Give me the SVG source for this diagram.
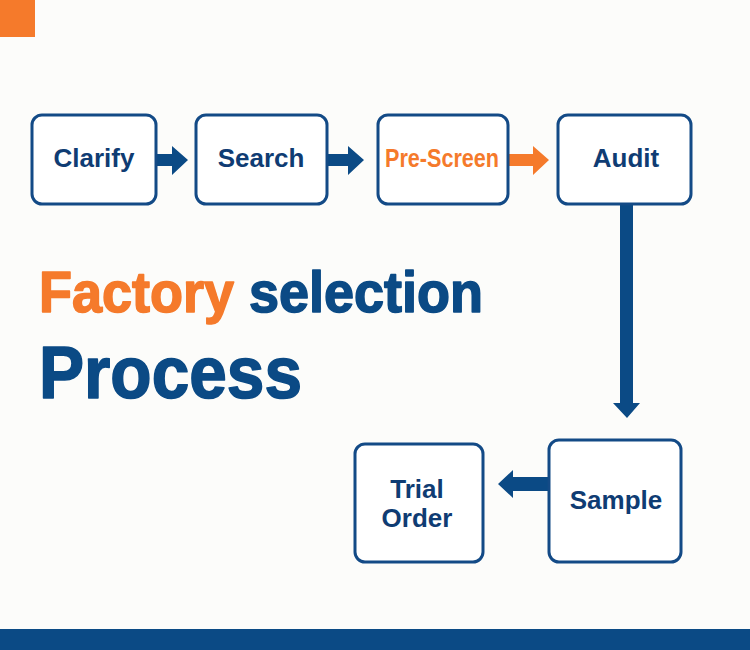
<svg xmlns="http://www.w3.org/2000/svg" width="750" height="650" viewBox="0 0 750 650">
<style>
.box{fill:#ffffff;stroke:#134a86;stroke-width:3}
.lbl{font-family:"Liberation Sans",Arial,sans-serif;font-weight:bold;font-size:26px;fill:#0f3c73;text-anchor:middle}
.blue{fill:#0b4a85}
.orange{fill:#f57a2b}
.title{font-family:"Liberation Sans",Arial,sans-serif;font-weight:bold;stroke-width:1.6;stroke-linejoin:round}
</style>
<rect x="0" y="0" width="750" height="650" fill="#fcfcfa"/>
<rect x="0" y="0" width="35" height="37" class="orange"/>
<rect x="0" y="629" width="750" height="21" class="blue"/>

<g id="connectors">
<polygon class="blue" points="157,154 172,154 172,146 188,160 172,175 172,166 157,166"/>
<polygon class="blue" points="328,154 348,154 348,146 364,160 348,175 348,166 328,166"/>
<polygon class="orange" points="508,154 533,154 533,146 549,160 533,175 533,166 508,166"/>
<polygon class="blue" points="620,205 633,205 633,403 640,403 627,418 613,403 620,403"/>
<polygon class="blue" points="548,477 513,477 513,470 498,484 513,498 513,491 548,491"/>
</g>

<g id="clarify">
<rect class="box" x="32" y="115" width="124" height="89" rx="10"/>
<text class="lbl" x="94" y="167">Clarify</text>
</g>
<g id="search">
<rect class="box" x="196" y="115" width="131" height="89" rx="10"/>
<text class="lbl" x="261" y="167">Search</text>
</g>
<g id="prescreen">
<rect class="box" x="378" y="115" width="130" height="89" rx="10"/>
<text class="lbl" x="442" y="167" style="fill:#f57a2b" textLength="114" lengthAdjust="spacingAndGlyphs">Pre-Screen</text>
</g>
<g id="audit">
<rect class="box" x="558" y="115" width="133" height="89" rx="10"/>
<text class="lbl" x="626" y="167">Audit</text>
</g>
<g id="sample">
<rect class="box" x="549" y="440" width="132" height="122" rx="10"/>
<text class="lbl" x="616" y="509">Sample</text>
</g>
<g id="trial-order">
<rect class="box" x="355" y="444" width="128" height="118" rx="10"/>
<text class="lbl" x="417" y="498">Trial</text>
<text class="lbl" x="417" y="527">Order</text>
</g>

<g id="title">
<text class="title" x="39" y="312" font-size="57" textLength="444" lengthAdjust="spacingAndGlyphs"><tspan fill="#f57a2b" stroke="#f57a2b">Factory</tspan><tspan fill="#0b4a85" stroke="#0b4a85"> selection</tspan></text>
<text class="title" x="39" y="398" font-size="74" fill="#0b4a85" stroke="#0b4a85" textLength="263" lengthAdjust="spacingAndGlyphs">Process</text>
</g>
</svg>
